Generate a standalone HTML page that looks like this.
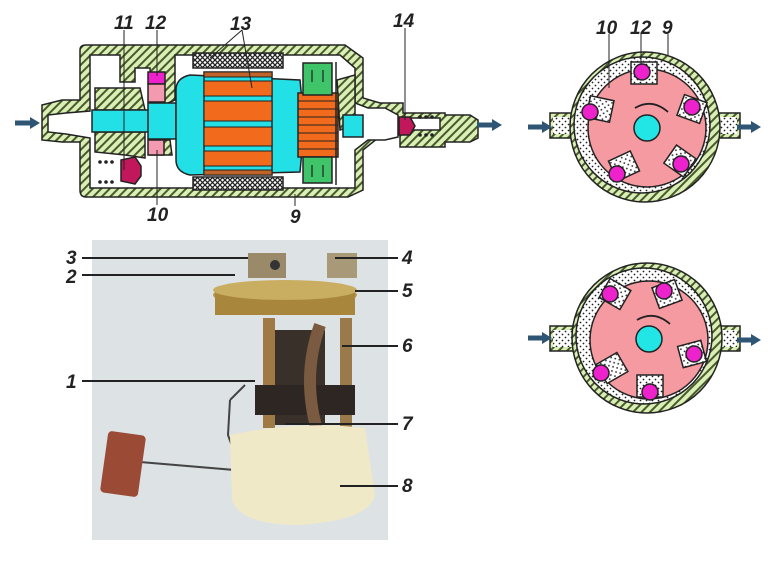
<!DOCTYPE html>
<html><head><meta charset="utf-8"><style>
html,body{margin:0;padding:0;background:#fff;width:783px;height:563px;overflow:hidden}
text{font-family:"Liberation Sans",sans-serif;font-weight:bold;font-style:italic;font-size:19px;fill:#222}
</style></head><body>
<svg width="783" height="563" viewBox="0 0 783 563" xmlns="http://www.w3.org/2000/svg">
<defs>
<pattern id="h" width="6" height="6" patternUnits="userSpaceOnUse" patternTransform="rotate(45)">
<rect width="6" height="6" fill="#d9efb4"/><rect width="2" height="6" fill="#4a5a30"/></pattern>
<pattern id="x" width="5" height="5" patternUnits="userSpaceOnUse">
<rect width="5" height="5" fill="#fff"/><path d="M0 0L5 5M5 0L0 5" stroke="#222" stroke-width="1.3"/></pattern>
<pattern id="d" width="6" height="6" patternUnits="userSpaceOnUse">
<rect width="6" height="6" fill="#fff"/><circle cx="1.5" cy="1.5" r="0.9" fill="#222"/><circle cx="4.5" cy="4.5" r="0.9" fill="#222"/></pattern>
<marker id="ar" markerUnits="userSpaceOnUse" markerWidth="10" markerHeight="12" refX="2" refY="6" orient="auto"><path d="M0 0L10 6L0 12z" fill="#2f5574"/></marker>
</defs>

<!-- ===== pump cross-section ===== -->
<g stroke="#222" stroke-width="1.5">
<path d="M42 105 L62 100 L80 100 L80 50 Q80 45 86 45 L345 45 L363 58 L363 98 L380 103 L403 103 L403 113 L445 113 L445 115 L470 115 L478 120 L478 138 L470 142 L445 142 L445 147 L400 147 L400 133 L388 130 L363 150 L363 190 L348 197 L86 197 Q80 197 80 190 L80 142 L62 142 L42 140 Z" fill="url(#h)"/>
<path d="M48 115 L66 113 L90 111 L90 55 L120 55 L120 82 L135 82 L135 68 L150 68 L152 110 L175 100 L175 55 L340 55 L355 68 L355 103 L368 108 L385 108 L398 115 L398 137 L385 140 L368 140 L355 150 L355 188 L90 188 L90 138 L66 134 L48 132 Z" fill="#fff"/>
<path d="M95 88 L140 88 L145 110 L95 110 Z" fill="url(#h)"/>
<path d="M95 132 L145 132 L145 158 L125 155 L95 152 Z" fill="url(#h)"/>
<path d="M150 140 L170 140 L172 155 L150 155 Z" fill="url(#h)"/>
<path d="M337 80 L355 75 L355 125 L340 130 Z" fill="url(#h)"/>
<path d="M408 118 L440 118 L440 130 L408 130 Z" fill="#fff"/>
<rect x="193" y="53" width="90" height="15" fill="url(#x)"/>
<rect x="193" y="177" width="90" height="13" fill="url(#x)"/>
<rect x="92" y="110" width="60" height="22" fill="#22e0e6"/>
<rect x="148" y="103" width="28" height="36" fill="#22e0e6"/>
<rect x="343" y="115" width="20" height="22" fill="#22e0e6"/>
<path d="M190 75 L300 80 Q305 125 300 172 L190 175 Q176 172 176 160 L176 90 Q176 78 190 75Z" fill="#22e0e6"/>
<rect x="204" y="72" width="68" height="103" fill="#22e0e6"/>
<g fill="#f26b1c" stroke-width="1">
<rect x="204" y="72" width="68" height="5" fill="#c0642a"/>
<rect x="204" y="81" width="68" height="15"/>
<rect x="204" y="101" width="68" height="20"/>
<rect x="204" y="127" width="68" height="19"/>
<rect x="204" y="151" width="68" height="15"/>
<rect x="204" y="170" width="68" height="5" fill="#c0642a"/>
</g>
<rect x="298" y="93" width="40" height="64" fill="#f26b1c"/>
<g stroke-width="1"><path d="M298 101H338M298 109H338M298 117H338M298 125H338M298 133H338M298 141H338M298 149H338"/></g>
<rect x="303" y="63" width="29" height="32" fill="#3fc46a"/>
<rect x="303" y="157" width="29" height="26" fill="#3fc46a"/>
<path d="M312 70 L312 82 M323 70 L323 82 M312 165 L312 177 M323 165 L323 177" stroke-width="1.2"/>
<line x1="336" y1="62" x2="336" y2="185" stroke-width="1.5"/>
<rect x="148" y="72" width="17" height="12" fill="#ee22cc"/>
<rect x="148" y="84" width="17" height="18" fill="#f49ab0"/>
<rect x="148" y="140" width="16" height="15" fill="#f49ab0"/>
<path d="M121 160 L135 157 L141 166 L141 176 L135 184 L121 181 Z" fill="#c2185b"/>
<path d="M399 117 L410 117 L415 126 L410 135 L399 135 Z" fill="#c2185b"/>
</g>
<g fill="#222"><circle cx="100" cy="162" r="1.8"/><circle cx="106" cy="162" r="1.8"/><circle cx="112" cy="162" r="1.8"/><circle cx="100" cy="182" r="1.8"/><circle cx="106" cy="182" r="1.8"/><circle cx="112" cy="182" r="1.8"/>
<circle cx="420" cy="117" r="1.8"/><circle cx="426" cy="117" r="1.8"/><circle cx="432" cy="117" r="1.8"/><circle cx="420" cy="135" r="1.8"/><circle cx="426" cy="135" r="1.8"/><circle cx="432" cy="135" r="1.8"/></g>
<line x1="15" y1="123" x2="32" y2="123" stroke="#2f5574" stroke-width="5" marker-end="url(#ar)"/>
<line x1="477" y1="125" x2="494" y2="125" stroke="#2f5574" stroke-width="5" marker-end="url(#ar)"/>
<g stroke="#222" stroke-width="1">
<line x1="124" y1="30" x2="124" y2="170"/><line x1="157" y1="30" x2="157" y2="76"/>
<line x1="157" y1="150" x2="157" y2="205"/><line x1="242" y1="30" x2="210" y2="58"/><line x1="242" y1="30" x2="252" y2="88"/>
<line x1="405" y1="28" x2="405" y2="120"/><line x1="295" y1="206" x2="295" y2="194"/>
</g>
<text x="114" y="29">11</text><text x="145" y="29">12</text><text x="230" y="30">13</text><text x="393" y="27">14</text>
<text x="147" y="221">10</text><text x="290" y="223">9</text>

<!-- ===== rotor views ===== -->
<g stroke="#222" stroke-width="1.5">
<rect x="550" y="113" width="30" height="25" fill="url(#h)"/><rect x="553" y="117" width="30" height="17" fill="url(#d)" stroke="none"/>
<rect x="710" y="113" width="30" height="25" fill="url(#h)"/><rect x="705" y="117" width="32" height="17" fill="url(#d)" stroke="none"/>
<circle cx="645" cy="127" r="75" fill="url(#h)"/>
<circle cx="642" cy="125" r="68" fill="url(#d)"/>
<circle cx="647" cy="128" r="59" fill="#f49aa0"/>
<rect x="631" y="62" width="26" height="22" fill="url(#d)"/><circle cx="642" cy="72" r="8" fill="#ee22cc"/>
<rect x="588" y="98" width="24" height="22" fill="url(#d)" transform="rotate(12 600 109)"/><circle cx="590" cy="112" r="8" fill="#ee22cc"/>
<rect x="680" y="98" width="24" height="22" fill="url(#d)" transform="rotate(20 692 109)"/><circle cx="692" cy="107" r="8" fill="#ee22cc"/>
<rect x="612" y="155" width="24" height="22" fill="url(#d)" transform="rotate(-25 624 166)"/><circle cx="617" cy="174" r="8" fill="#ee22cc"/>
<rect x="668" y="150" width="24" height="22" fill="url(#d)" transform="rotate(35 680 161)"/><circle cx="681" cy="164" r="8" fill="#ee22cc"/>
<circle cx="647" cy="128" r="13" fill="#22e6e6"/>
<path d="M635 108 Q652 98 668 112" fill="none" stroke-width="1.8"/>
</g>
<line x1="528" y1="127" x2="544" y2="127" stroke="#2f5574" stroke-width="5" marker-end="url(#ar)"/>
<line x1="737" y1="127" x2="753" y2="127" stroke="#2f5574" stroke-width="5" marker-end="url(#ar)"/>
<g stroke="#222" stroke-width="1"><line x1="609" y1="34" x2="609" y2="88"/><line x1="641" y1="34" x2="641" y2="64"/><line x1="668" y1="34" x2="668" y2="56"/></g>
<text x="596" y="34">10</text><text x="630" y="34">12</text><text x="662" y="34">9</text>

<g stroke="#222" stroke-width="1.5">
<rect x="550" y="326" width="30" height="25" fill="url(#h)"/><rect x="553" y="330" width="30" height="17" fill="url(#d)" stroke="none"/>
<rect x="710" y="326" width="30" height="25" fill="url(#h)"/><rect x="705" y="330" width="32" height="17" fill="url(#d)" stroke="none"/>
<circle cx="647" cy="338" r="75" fill="url(#h)"/>
<circle cx="644" cy="336" r="68" fill="url(#d)"/>
<circle cx="649" cy="340" r="59" fill="#f49aa0"/>
<rect x="603" y="283" width="24" height="22" fill="url(#d)" transform="rotate(30 615 294)"/><circle cx="610" cy="294" r="8" fill="#ee22cc"/>
<rect x="655" y="283" width="24" height="22" fill="url(#d)" transform="rotate(-20 667 294)"/><circle cx="664" cy="291" r="8" fill="#ee22cc"/>
<rect x="680" y="343" width="24" height="22" fill="url(#d)" transform="rotate(-15 692 354)"/><circle cx="694" cy="354" r="8" fill="#ee22cc"/>
<rect x="600" y="357" width="24" height="22" fill="url(#d)" transform="rotate(-30 612 368)"/><circle cx="601" cy="373" r="8" fill="#ee22cc"/>
<rect x="637" y="375" width="26" height="22" fill="url(#d)"/><circle cx="650" cy="392" r="8" fill="#ee22cc"/>
<circle cx="649" cy="339" r="13" fill="#22e6e6"/>
<path d="M637 320 Q654 310 670 324" fill="none" stroke-width="1.8"/>
</g>
<line x1="528" y1="338" x2="544" y2="338" stroke="#2f5574" stroke-width="5" marker-end="url(#ar)"/>
<line x1="737" y1="340" x2="753" y2="340" stroke="#2f5574" stroke-width="5" marker-end="url(#ar)"/>

<!-- ===== photo ===== -->
<rect x="92" y="240" width="296" height="300" fill="#dde2e4"/>
<ellipse cx="285" cy="295" rx="72" ry="12" fill="#b89a4a"/>
<rect x="215" y="290" width="140" height="25" fill="#a8863c"/>
<ellipse cx="285" cy="290" rx="72" ry="10" fill="#c9ad60"/>
<rect x="248" y="253" width="38" height="25" fill="#9a8a6a"/><circle cx="275" cy="265" r="5" fill="#333"/>
<rect x="327" y="253" width="30" height="25" fill="#a89a78"/>
<rect x="263" y="318" width="12" height="110" fill="#a07a45"/>
<rect x="340" y="318" width="12" height="110" fill="#9a7a4a"/>
<rect x="275" y="330" width="50" height="95" fill="#3a302a"/>
<rect x="255" y="385" width="100" height="30" fill="#2d2622"/>
<path d="M320 325 Q300 380 320 440" stroke="#7a5a40" stroke-width="12" fill="none"/>
<path d="M230 400 L245 385 M230 400 L228 435 L237 460 L235 470 L140 462" stroke="#444" stroke-width="2" fill="none"/>
<rect x="104" y="433" width="38" height="62" rx="4" fill="#9a4a35" transform="rotate(8 123 464)"/>
<path d="M230 435 Q300 420 365 428 L375 495 Q370 520 300 525 Q240 525 232 500 Z" fill="#f0e9c8"/>
<g stroke="#222" stroke-width="2">
<line x1="82" y1="258" x2="248" y2="258"/><line x1="82" y1="275" x2="235" y2="275"/><line x1="82" y1="381" x2="255" y2="381"/>
<line x1="335" y1="258" x2="398" y2="258"/><line x1="355" y1="291" x2="398" y2="291"/><line x1="342" y1="346" x2="398" y2="346"/>
<line x1="285" y1="424" x2="398" y2="424"/><line x1="340" y1="486" x2="398" y2="486"/>
</g>
<text x="66" y="264">3</text><text x="66" y="283">2</text><text x="66" y="388">1</text>
<text x="402" y="264">4</text><text x="402" y="297">5</text><text x="402" y="352">6</text><text x="402" y="430">7</text><text x="402" y="492">8</text>
</svg>
</body></html>
